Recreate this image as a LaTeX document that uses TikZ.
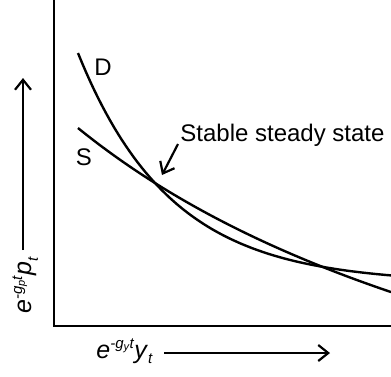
\documentclass[tikz,border=0pt]{standalone}
\usepackage{fontspec}
\setmainfont{Liberation Sans}
\usetikzlibrary{arrows.meta}

\newcommand{\bigtxt}{\fontsize{12}{14}\selectfont}
\newcommand{\axtxt}{\fontsize{12.5}{15}\selectfont}
\newcommand{\smtxt}{\fontsize{7.5}{9}\selectfont}
\newcommand{\tinytxt}{\fontsize{5.5}{6}\selectfont}
% e^{-g_v t} v_t in italic sans
\newcommand{\detrended}[1]{\textit{e}\raisebox{0.75ex}{\smtxt\textit{-g}\raisebox{-0.35ex}{\tinytxt\textit{#1}}\textit{t}}\textit{#1}\raisebox{-0.45ex}{\smtxt\textit{t}}}

\begin{document}
\begin{tikzpicture}[x=0.5pt, y=-0.5pt,
    curve/.style={line width=1.2pt},
    axis/.style={line width=1.3pt},
    pointer/.style={line width=1.1pt, -{Straight Barb[length=5pt, width=8pt]}},
    lbl/.style={font=\bigtxt, inner sep=0pt}]
    \useasboundingbox (0,0) rectangle (391,376);

    % Axes
    \draw[axis] (54,0) -- (54,326) -- (391,326);

    % Demand and supply curves
    \draw[curve] plot[domain=78:391, samples=80] (\x, {283.2 - 534.5*exp(-0.0108*\x)});
    \draw[curve] plot[domain=78:391, samples=80] (\x, {592.1 - 2657.7/((\x+494.7)/100)});

    % Curve labels
    \node[lbl] (dlab) at (103,67) {D};
    \node[lbl] (slab) at (84,157) {S};

    % Steady state
    \node[lbl, anchor=base west] (ss) at (180,141) {Stable steady state};
    \coordinate (sstail) at (178,144);
    \coordinate (sstip) at (162,175);
    \draw[pointer] (sstail) -- (sstip);

    % Axis labels
    \node[lbl, font=\axtxt, anchor=base west] (xlab) at (96,358) {\detrended{y}};
    \coordinate (xtail) at (164,353);
    \coordinate (xtip) at (330,353);
    \draw[pointer] (xtail) -- (xtip);

    \node[lbl, font=\axtxt, rotate=90, anchor=base west] (ylab) at (32,314) {\detrended{p}};
    \coordinate (ytail) at (23,250);
    \coordinate (ytip) at (23,78);
    \draw[pointer] (ytail) -- (ytip);
\end{tikzpicture}
\end{document}
